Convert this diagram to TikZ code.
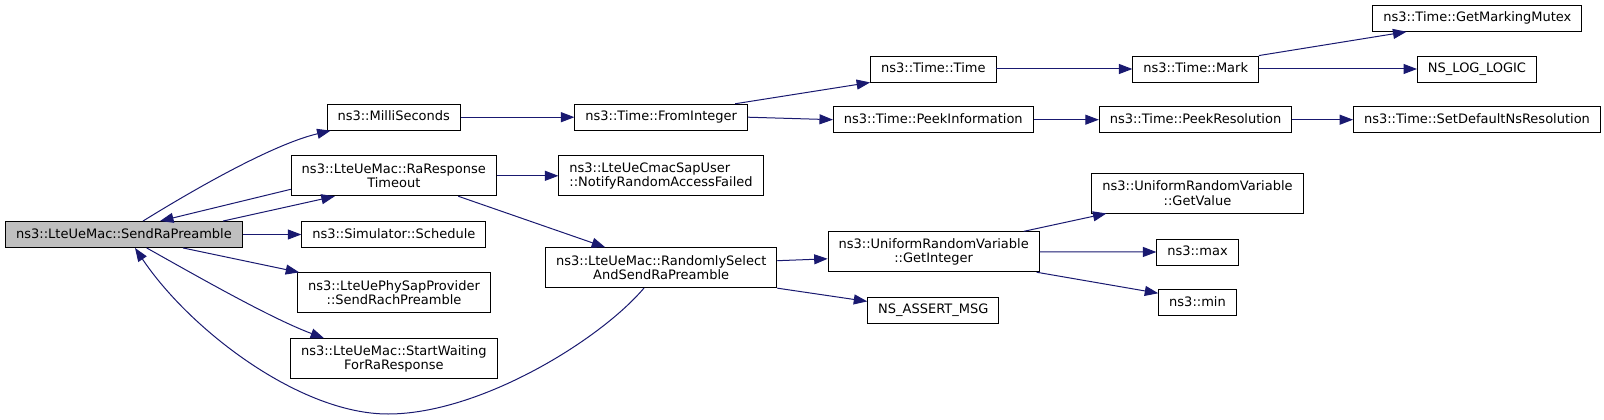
\documentclass[tikz,border=0pt]{standalone}
\usepackage{fontspec}
\setmainfont{DejaVu Sans}
\usetikzlibrary{arrows.meta,positioning,calc}
\definecolor{edgeblue}{HTML}{191970}
\definecolor{curfill}{HTML}{BFBFBF}
\tikzset{
  base/.style ={draw=black,line width=0.9pt,fill=white,inner xsep=10.5pt,inner ysep=0pt,
                font=\fontsize{13}{14.5}\selectfont},
  fn/.style   ={base,minimum height=26pt,text height=9.6pt,text depth=2.6pt},
  fnn/.style  ={base,align=center,minimum height=40pt},
  cur/.style  ={fn,fill=curfill},
  ar/.style   ={draw=edgeblue,line width=1pt,-{Triangle[length=13.5pt,width=10pt]}},
}

\begin{document}
\begin{tikzpicture}[x=1pt,y=-1pt]
  \useasboundingbox (0,0) rectangle (1604,420);
  % caller and first level
  \node[cur] (send) at (124,234.5) {ns3::LteUeMac::SendRaPreamble};
  \node[fn]  (milli) at (393.7,117.2) {ns3::MilliSeconds};
  \node[fnn] (timeout) at (393.8,175.8) {ns3::LteUeMac::RaResponse\\Timeout};
  \node[fn]  (sched) at (393.8,234.5) {ns3::Simulator::Schedule};
  \node[fnn] (phy) at (394,292.8) {ns3::LteUePhySapProvider\\::SendRachPreamble};
  \node[fnn] (wait) at (393.8,358.7) {ns3::LteUeMac::StartWaiting\\ForRaResponse};
  % second level
  \node[fn]  (fromint) at (661.2,117.2) {ns3::Time::FromInteger};
  \node[fnn,align=left] (notify) at (661,175.8) {ns3::LteUeCmacSapUser\\::NotifyRandomAccessFailed};
  \node[fnn] (randsel) at (661.2,267.7) {ns3::LteUeMac::RandomlySelect\\AndSendRaPreamble};
  % third level
  \node[fn]  (ttime) at (933.3,69) {ns3::Time::Time};
  \node[fn]  (peekinfo) at (933.3,119.7) {ns3::Time::PeekInformation};
  \node[fnn] (getint) at (933.7,251.8) {ns3::UniformRandomVariable\\::GetInteger};
  \node[fn]  (assert) at (933.3,310.4) {NS\_ASSERT\_MSG};
  % fourth level
  \node[fn]  (mark) at (1195.7,69) {ns3::Time::Mark};
  \node[fn]  (peekres) at (1195.5,119.7) {ns3::Time::PeekResolution};
  \node[fnn] (getval) at (1197.5,193) {ns3::UniformRandomVariable\\::GetValue};
  \node[fn]  (max) at (1197.5,252) {ns3::max};
  \node[fn]  (min) at (1197.5,302.7) {ns3::min};
  % last level
  \node[fn]  (mutex) at (1477.4,18.3) {ns3::Time::GetMarkingMutex};
  \node[fn]  (loglogic) at (1477,69) {NS\_LOG\_LOGIC};
  \node[fn]  (setdef) at (1477,119.7) {ns3::Time::SetDefaultNsResolution};

  % calls
  \draw[ar] ([xshift=19pt]send.north) .. controls (185,195) and (270,145) .. ([xshift=4pt]milli.south west);
  \draw[ar] ([xshift=99pt]send.north) -- ([xshift=-59pt]timeout.south);
  \draw[ar] ([yshift=-13.5pt]timeout.west) -- ([xshift=36pt]send.north);
  \draw[ar] (send) -- (sched);
  \draw[ar] ([xshift=59pt]send.south) -- ([xshift=2pt]phy.north west);
  \draw[ar] ([xshift=22.7pt]send.south) .. controls (195,275) and (270,318) .. ([xshift=34pt]wait.north west);
  \draw[ar] (randsel) .. controls (600,340) and (480,414) .. (388,414)
            .. controls (300,414) and (190,330) .. ([xshift=11pt]send.south);
  \draw[ar] (milli) -- (fromint);
  \draw[ar] (timeout) -- (notify);
  \draw[ar] ([xshift=64.5pt]timeout.south) -- ([xshift=-56pt]randsel.north);
  \draw[ar] ([xshift=74pt]fromint.north) -- (ttime.south west);
  \draw[ar] (fromint.east) -- (peekinfo.west);
  \draw[ar] (ttime) -- (mark);
  \draw[ar] (mark.north east) -- ([xshift=34pt]mutex.south west);
  \draw[ar] (mark) -- (loglogic);
  \draw[ar] (peekinfo) -- (peekres);
  \draw[ar] (peekres) -- (setdef);
  \draw[ar] ([yshift=7pt]randsel.east) -- ([yshift=-7pt]getint.west);
  \draw[ar] (randsel.south east) -- ([yshift=9pt]assert.west);
  \draw[ar] ([xshift=90pt]getint.north) -- ([xshift=15pt]getval.south west);
  \draw[ar] (getint.east) -- (max.west);
  \draw[ar] ([xshift=-3pt]getint.south east) -- ([yshift=-4pt]min.north west);
\end{tikzpicture}
\end{document}
